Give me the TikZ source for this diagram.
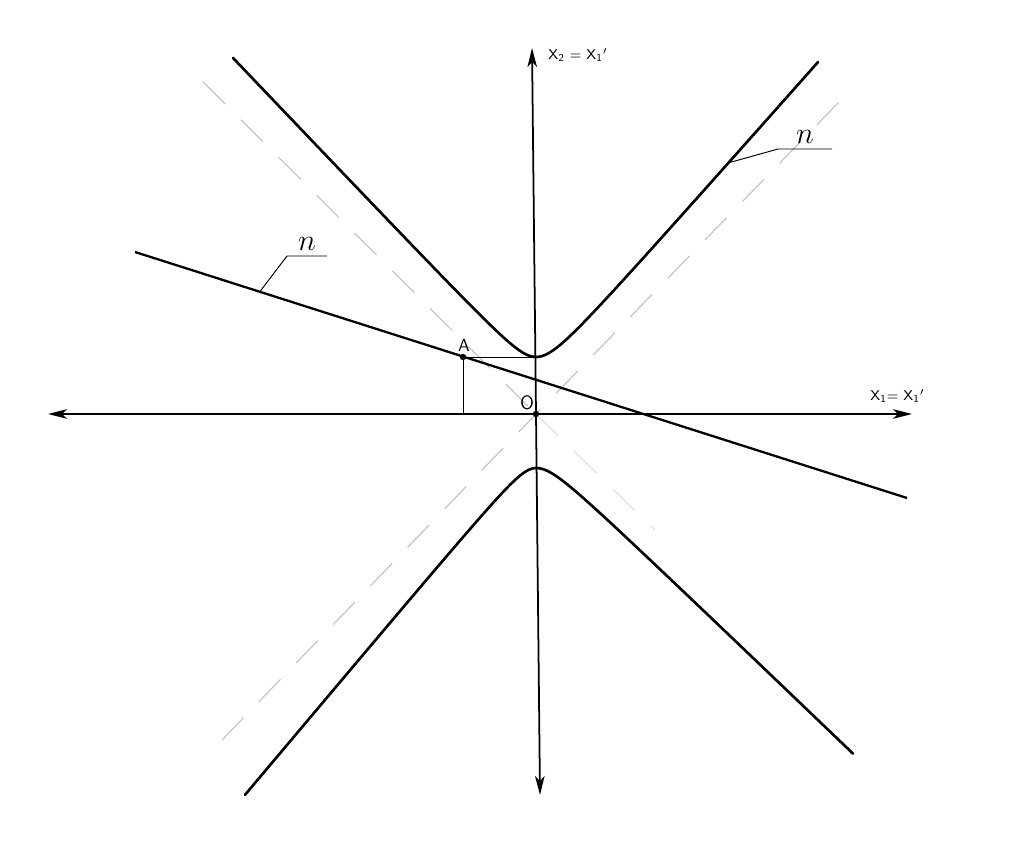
\documentclass[tikz,border=0pt]{standalone}
\usetikzlibrary{arrows.meta}
\begin{document}
\begin{tikzpicture}[x=0.02cm,y=-0.02cm,
  axis/.style={line width=1.0pt,-{Stealth[length=0.38cm,width=0.19cm,inset=0.1cm]}},
  branch/.style={line width=1.5pt,line join=round,line cap=round},
  secant/.style={line width=1.3pt},
  thin/.style={line width=0.55pt},
  asym/.style={line width=0.6pt,gray!50,dash pattern=on 0.62cm off 0.45cm},
  asymfaint/.style={line width=0.5pt,gray!30,dash pattern=on 0.62cm off 0.45cm},
  lbl/.style={font=\sffamily\fontsize{8}{9}\selectfont,inner sep=0pt},
  nlbl/.style={font=\fontsize{17}{17}\selectfont,inner sep=0pt}]
\useasboundingbox[fill=white] (0,0) rectangle (1033,854);

% named points
\coordinate (O) at (536,414);
\coordinate (A) at (463,357);
\coordinate (V) at (536,357);
\coordinate (Ax) at (463,414);
\coordinate (xL) at (48,414);
\coordinate (xR) at (912,414);
\coordinate (yT) at (532,48);
\coordinate (yB) at (540,795);
\coordinate (n1) at (135,252);
\coordinate (n2) at (907,498);

% asymptotes (dashed)
\draw[asym] (222,740) -- (O) -- (840,101);
\draw[asym] (203,82) -- (O);
\draw[asymfaint] (O) -- (655,530);

% axes
\draw[axis] (O) -- (xL);
\draw[axis] (O) -- (xR);
\draw[axis] (O) -- (yT);
\draw[axis] (O) -- (yB);

% hyperbola, upper branch
\draw[branch]
  plot[domain=-30.3:0,samples=90,smooth] ({536+10*\x},{414-10*(3.7+sqrt(4+1.1046*\x*\x))})
  -- plot[domain=0:28.2,samples=90,smooth] ({536+10*\x},{414-10*(3.23+sqrt(2.47*2.47+1.2769*\x*\x))});
% hyperbola, lower branch
\draw[branch]
  plot[domain=-29.1:0,samples=90,smooth] ({536+10*\x},{414+10*(3.4+sqrt(4+1.4161*\x*\x))})
  -- plot[domain=0:31.7,samples=90,smooth] ({536+10*\x},{414+10*(3.47+sqrt(1.93*1.93+0.9216*\x*\x))});

% secant line n
\draw[secant] (n1) -- (n2);

% point A and its projections
\draw[thin] (A) -- (Ax);
\draw[thin] (A) -- (V);
\fill (A) circle (3.2);
\fill (O) circle (3.2);

% labels
\node[lbl,font=\sffamily\fontsize{10}{10}\selectfont] (Alab) at (464,345) {A};
\node[lbl,font=\sffamily\fontsize{11}{11}\selectfont] (Olab) at (527,403) {O};
\node[lbl,anchor=west] (ylab) at (548,55) {X\textsubscript{2} = X\textsubscript{1}$'$};
\node[lbl,anchor=west] (xlab) at (870,396) {X\textsubscript{1}= X\textsubscript{1}$'$};

% leader lines to n
\coordinate (la) at (260,291.5);
\coordinate (lb) at (287,256);
\coordinate (lc) at (327,256);
\draw[thin] (la) -- (lb) -- (lc);
\node[nlbl] (nL) at (307,244) {$n$};
\coordinate (ra) at (728,163);
\coordinate (rb) at (778,149);
\coordinate (rc) at (832,149);
\draw[thin] (ra) -- (rb) -- (rc);
\node[nlbl] (nR) at (805,137) {$n$};
\end{tikzpicture}
\end{document}
